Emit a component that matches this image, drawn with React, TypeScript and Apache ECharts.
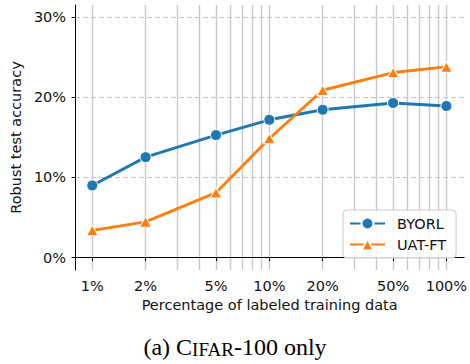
import React, { useEffect, useRef } from "react";
import * as echarts from "echarts";

const percentages = [1, 2, 5, 10, 20, 50, 100];
const byorl = [9.0, 12.53, 15.28, 17.19, 18.44, 19.28, 18.9];
const uatFt = [3.4, 4.46, 8.1, 14.86, 20.87, 23.08, 23.78];
const xMajorTicks = [1, 2, 5, 10, 20, 50, 100];
const xMinorTicks = [1, 2, 3, 4, 5, 6, 7, 8, 9, 10, 20, 30, 40, 50, 60, 70, 80, 90, 100];
const yTicks = [0, 10, 20, 30];

const FONT = "DejaVu Sans";

export default function App() {
  const ref = useRef<HTMLDivElement>(null);
  useEffect(() => {
    if (!ref.current) return;
    const chart = echarts.init(ref.current, null, { renderer: "svg" });
    const xMin = 0.8;
    const xMax = 126;
    chart.setOption({
      animation: false,
      backgroundColor: "#ffffff",
      grid: { left: 72.5, right: 4, top: 5, bottom: 94 },
      legend: {
        data: ["BYORL", "UAT-FT"],
        orient: "vertical",
        left: 343,
        top: 210,
        padding: [6, 10, 6, 6],
        itemWidth: 35,
        itemHeight: 15,
        itemGap: 6,
        backgroundColor: "rgba(255,255,255,0.85)",
        borderColor: "#cccccc",
        borderWidth: 1,
        borderRadius: 4,
        textStyle: { fontFamily: FONT, fontSize: 14.5, color: "#111", lineHeight: 15, padding: [0, 0, 0, 7] },
      },
      xAxis: [
        {
          type: "log",
          logBase: 10,
          min: xMin,
          max: xMax,
          name: "Percentage of labeled training data",
          nameLocation: "middle",
          nameGap: 27,
          nameTextStyle: { fontFamily: FONT, fontSize: 14.5, color: "#111" },
          axisLine: { show: true, lineStyle: { color: "#000", width: 1 } },
          axisTick: { show: true, length: 3.5, customValues: xMajorTicks, lineStyle: { color: "#000" } },
          axisLabel: {
            customValues: xMajorTicks,
            margin: 8,
            fontFamily: FONT,
            fontSize: 14.5,
            color: "#111",
            formatter: (v: number) => `${v}%`,
          },
          splitLine: { show: false },
        },
        {
          type: "log",
          logBase: 10,
          min: xMin,
          max: xMax,
          position: "bottom",
          axisLine: { show: false },
          axisTick: { show: false, customValues: xMinorTicks },
          axisLabel: { show: false, customValues: xMinorTicks },
          splitLine: { show: true, lineStyle: { color: "#c8c8c8", width: 1.4, type: "solid" } },
        },
      ],
      yAxis: {
        type: "value",
        min: -1.54,
        max: 31.5,
        name: "Robust test accuracy",
        nameLocation: "middle",
        nameGap: 48,
        nameTextStyle: { fontFamily: FONT, fontSize: 14.5, color: "#111" },
        axisLine: { show: true, lineStyle: { color: "#000", width: 1 } },
        axisTick: { show: true, length: 3.5, customValues: yTicks, lineStyle: { color: "#000" } },
        axisLabel: {
          customValues: yTicks,
          margin: 9,
          fontFamily: FONT,
          fontSize: 14.5,
          color: "#111",
          formatter: (v: number) => `${v}%`,
        },
        splitLine: { show: true, lineStyle: { color: "#c0c0c0", width: 1.2, type: [5, 3] } },
      },
      series: [
        {
          name: "BYORL",
          type: "line",
          xAxisIndex: 0,
          data: percentages.map((p, i) => [p, byorl[i]]),
          symbol: "circle",
          symbolSize: 11,
          lineStyle: { color: "#1f77b4", width: 2.9 },
          itemStyle: { color: "#1f77b4", borderColor: "#ffffff", borderWidth: 1 },
          z: 3,
        },
        {
          name: "UAT-FT",
          type: "line",
          xAxisIndex: 0,
          data: percentages.map((p, i) => [p, uatFt[i]]),
          symbol: "triangle",
          symbolSize: [11.5, 10.5],
          lineStyle: { color: "#ff7f0e", width: 2.9 },
          itemStyle: { color: "#ff7f0e", borderColor: "#ffffff", borderWidth: 1 },
          z: 4,
        },
      ],
      graphic: [
        {
          type: "text",
          left: "center",
          top: 335,
          style: {
            text: "(a) C{sc|IFAR}-100 only",
            fontFamily: "Liberation Serif",
            fontSize: 24,
            fill: "#000",
            rich: {
              sc: { fontFamily: "Liberation Serif", fontSize: 19, fill: "#000", verticalAlign: "bottom" },
            },
          },
        },
      ],
    });
    return () => chart.dispose();
  }, []);
  return (
    <div
      ref={ref}
      style={{ position: "fixed", left: 0, top: 0, width: 470, height: 364, background: "#fff" }}
    />
  );
}
